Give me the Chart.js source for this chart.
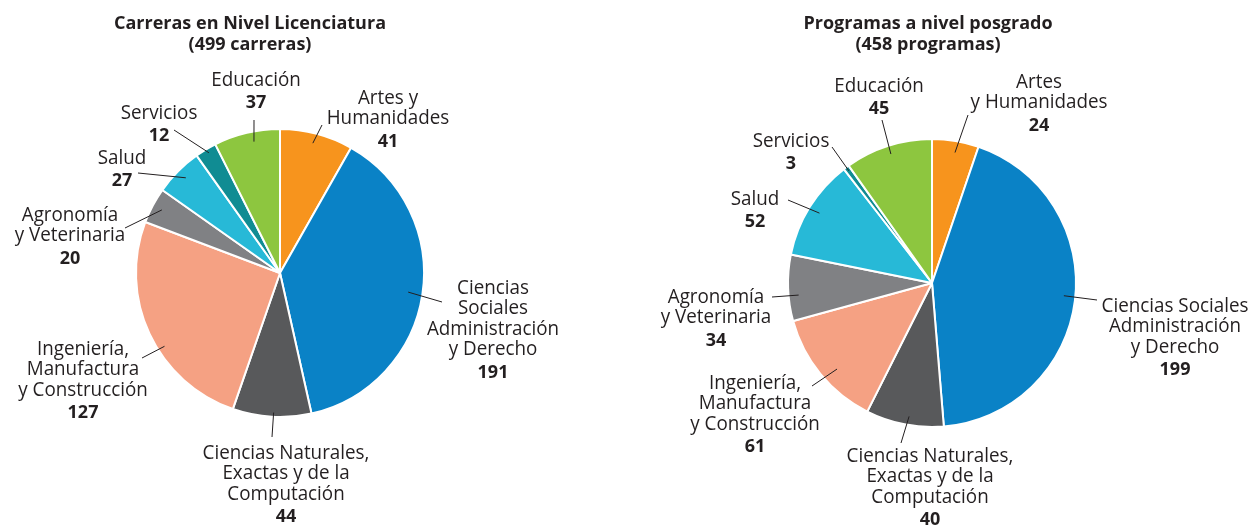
<!DOCTYPE html>
<html>
<head>
<meta charset="utf-8">
<script src="https://cdn.jsdelivr.net/npm/chart.js@4.4.1/dist/chart.umd.min.js"></script>
<style>
  html, body { margin: 0; padding: 0; background: #ffffff; }
  #wrap { position: relative; width: 1251px; height: 525px; }
  canvas { position: absolute; top: 0; }
</style>
</head>
<body>
<div id="wrap">
  <canvas id="chart-lic" width="625" height="525" style="left:0"></canvas>
  <canvas id="chart-pos" width="626" height="525" style="left:625px"></canvas>
</div>
<script>
(function () {
  // ---- data ----
  var CATEGORIES = [
    'Artes y Humanidades',
    'Ciencias Sociales, Administración y Derecho',
    'Ciencias Naturales, Exactas y de la Computación',
    'Ingeniería, Manufactura y Construcción',
    'Agronomía y Veterinaria',
    'Salud',
    'Servicios',
    'Educación'
  ];
  var LIC_VALUES = [41, 191, 44, 127, 20, 27, 12, 37];
  var POS_VALUES = [24, 199, 40, 61, 34, 52, 3, 45];

  var LIC_TITLE = ['Carreras en Nivel Licenciatura', '(499 carreras)'];
  var POS_TITLE = ['Programas a nivel posgrado', '(458 programas)'];

  // label text as it is broken into lines on each pie
  var LIC_LINES = [
    ['Artes y', 'Humanidades'],
    ['Ciencias', 'Sociales', 'Administración', 'y Derecho'],
    ['Ciencias Naturales,', 'Exactas y de la', 'Computación'],
    ['Ingeniería,', 'Manufactura', 'y Construcción'],
    ['Agronomía', 'y Veterinaria'],
    ['Salud'],
    ['Servicios'],
    ['Educación']
  ];
  var POS_LINES = [
    ['Artes', 'y Humanidades'],
    ['Ciencias Sociales', 'Administración', 'y Derecho'],
    ['Ciencias Naturales,', 'Exactas y de la', 'Computación'],
    ['Ingeniería,', 'Manufactura', 'y Construcción'],
    ['Agronomía', 'y Veterinaria'],
    ['Salud'],
    ['Servicios'],
    ['Educación']
  ];

  var COLORS = ['#F7941D', '#0A82C6', '#58595B', '#F5A183', '#808184', '#27B9D7', '#108C93', '#8DC63F'];

  // ---- label layout (offsets from pie centre; t/k = where leader touches the slice) ----
  var LIC_LAYOUT = [
    { dx: 108, dy: -175, t: 0.48, k: 0.93, ex: 42, ey: -148 },
    { dx: 213, dy: 15, t: 0.50, k: 0.90, ex: 162, ey: 29 },
    { dx: 6, dy: 180, t: 0.48, k: 0.97, ex: -8, ey: 164 },
    { dx: -197, dy: 76, t: 0.42, k: 0.95, ex: -138, ey: 85 },
    { dx: -210, dy: -58, t: 0.51, k: 0.93, ex: -155, ey: -45 },
    { dx: -158, dy: -115, t: 0.52, k: 0.93, ex: -142, ey: -100 },
    { dx: -121, dy: -160, t: 0.55, k: 0.97, ex: -106, ey: -143 },
    { dx: -24, dy: -193, t: 0.58, k: 0.93, ex: -26, ey: -153 }
  ];
  var POS_LAYOUT = [
    { dx: 107, dy: -201, t: 0.53, k: 0.92, ex: 36, ey: -168 },
    { dx: 243, dy: 23, t: 0.49, k: 0.92, ex: 165, ey: 17 },
    { dx: -2, dy: 173, t: 0.46, k: 0.94, ex: -31, ey: 160 },
    { dx: -177, dy: 100, t: 0.44, k: 0.89, ex: -120, ey: 103 },
    { dx: -216, dy: 14, t: 0.38, k: 0.93, ex: -160, ey: 14 },
    { dx: -177, dy: -84, t: 0.50, k: 0.92, ex: -144, ey: -83 },
    { dx: -141, dy: -142, t: 0.50, k: 0.97, ex: -100, ey: -136 },
    { dx: -53, dy: -197, t: 0.50, k: 0.94, ex: -50, ey: -163 }
  ];

  var TEXT_COLOR = '#231F20';
  var FONT_FAMILY = '"Open Sans", "Noto Sans", sans-serif';
  var LABEL_FONT = '20px ' + FONT_FAMILY;
  var VALUE_FONT = 'bold 18px ' + FONT_FAMILY;
  var TITLE_FONT = 'bold 18px ' + FONT_FAMILY;
  var LABEL_SQUASH = 0.94;
  var LINE_H = 20.5;
  var VALUE_GAP = 23;

  function drawText(c, s, x, y, font, sx) {
    c.save();
    c.translate(x, y);
    c.scale(sx, 1);
    c.font = font;
    c.fillStyle = TEXT_COLOR;
    c.textAlign = 'center';
    c.textBaseline = 'middle';
    c.fillText(s, 0, 0);
    c.restore();
  }

  var pieLabelsPlugin = {
    id: 'pieLabels',
    afterDatasetsDraw: function (chart, args, opts) {
      var c = chart.ctx;
      var meta = chart.getDatasetMeta(0);
      var values = chart.data.datasets[0].data;

      meta.data.forEach(function (arc, i) {
        var lay = opts.layout[i];
        var cx = arc.x, cy = arc.y;
        var a = arc.startAngle + (arc.endAngle - arc.startAngle) * lay.t;
        var r = arc.outerRadius * lay.k;

        c.save();
        c.beginPath();
        c.moveTo(cx + Math.cos(a) * r, cy + Math.sin(a) * r);
        c.lineTo(cx + lay.ex, cy + lay.ey);
        c.strokeStyle = TEXT_COLOR;
        c.lineWidth = 1;
        c.stroke();
        c.restore();

        var lines = opts.lines[i];
        lines.forEach(function (s, j) {
          drawText(c, s, cx + lay.dx, cy + lay.dy + j * LINE_H, LABEL_FONT, LABEL_SQUASH);
        });
        var vy = cy + lay.dy + (lines.length - 1) * LINE_H + VALUE_GAP;
        drawText(c, String(values[i]), cx + lay.dx, vy, VALUE_FONT, 1);
      });

      opts.title.forEach(function (s, j) {
        drawText(c, s, opts.titleX, 24 + j * 21, TITLE_FONT, 1);
      });
    }
  };

  function makePie(id, values, lines, layout, title, titleX, padding) {
    new Chart(document.getElementById(id), {
      type: 'pie',
      data: {
        labels: CATEGORIES,
        datasets: [{
          data: values,
          backgroundColor: COLORS,
          borderColor: '#ffffff',
          borderWidth: 2
        }]
      },
      options: {
        responsive: false,
        animation: false,
        layout: { padding: padding },
        plugins: {
          legend: { display: false },
          tooltip: { enabled: false },
          pieLabels: { lines: lines, layout: layout, title: title, titleX: titleX }
        }
      },
      plugins: [pieLabelsPlugin]
    });
  }

  makePie('chart-lic', LIC_VALUES, LIC_LINES, LIC_LAYOUT, LIC_TITLE, 250,
    { left: 135, right: 200, top: 128, bottom: 107 });
  makePie('chart-pos', POS_VALUES, POS_LINES, POS_LAYOUT, POS_TITLE, 303,
    { left: 162, right: 174, top: 138, bottom: 97 });
})();
</script>
</body>
</html>
